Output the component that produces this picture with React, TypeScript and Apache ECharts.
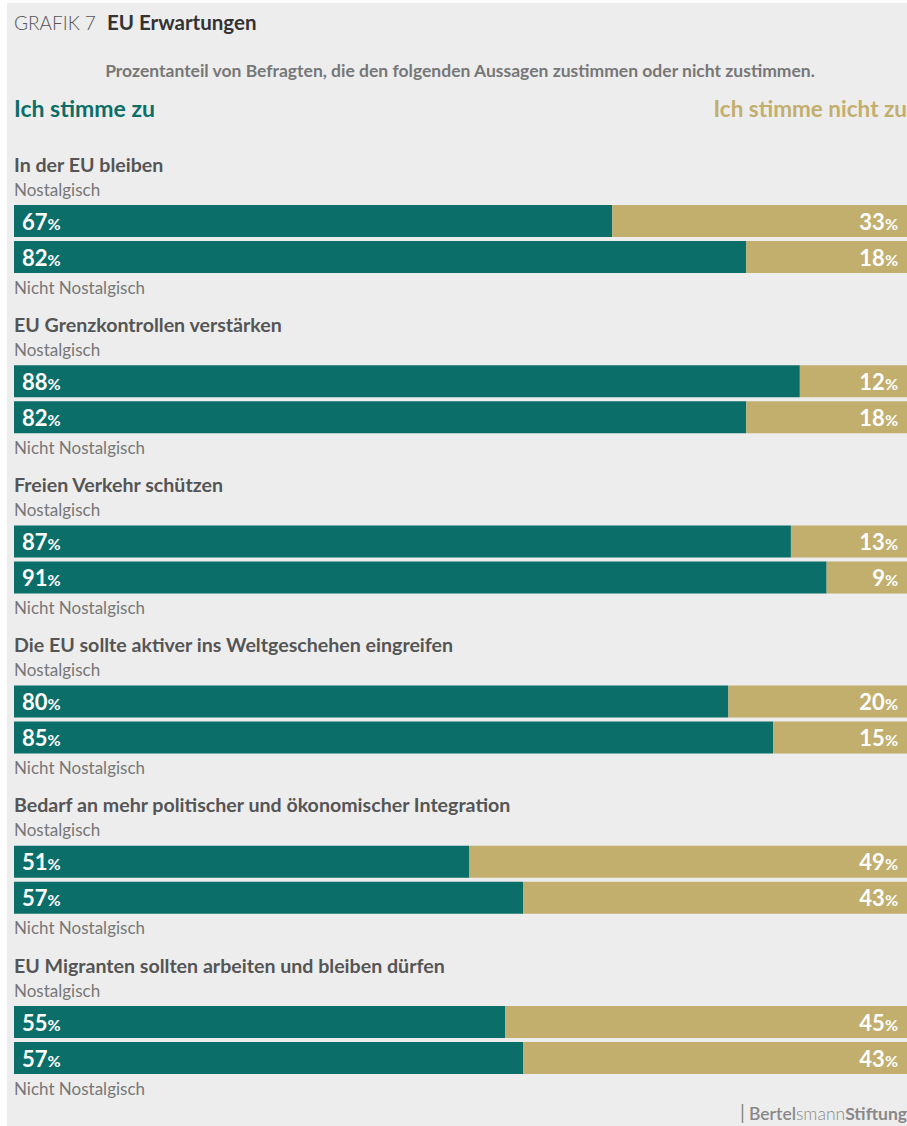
import React, { useEffect, useRef } from "react";
import * as echarts from "echarts";

const categories = [
  "In der EU bleiben",
  "EU Grenzkontrollen verstärken",
  "Freien Verkehr schützen",
  "Die EU sollte aktiver ins Weltgeschehen eingreifen",
  "Bedarf an mehr politischer und ökonomischer Integration",
  "EU Migranten sollten arbeiten und bleiben dürfen",
];
const groups = ["Nostalgisch", "Nicht Nostalgisch"];
const nostalgicAgree = [67, 88, 87, 80, 51, 55];
const nostalgicDisagree = [33, 12, 13, 20, 49, 45];
const notNostalgicAgree = [82, 82, 91, 85, 57, 57];
const notNostalgicDisagree = [18, 18, 9, 15, 43, 43];

const TEAL = "#0b6e69";
const GOLD = "#c2ae6d";
const FONT = "Lato";

export default function App() {
  const ref = useRef<HTMLDivElement>(null);
  useEffect(() => {
    if (!ref.current) return;
    const chart = echarts.init(ref.current, null, { renderer: "svg" });
    const step = 160.2;
    const grids: any[] = [];
    const xAxes: any[] = [];
    const yAxes: any[] = [];
    const series: any[] = [];
    const graphics: any[] = [];
    const rich = {
      n: { fontFamily: FONT, fontWeight: "bold", fontSize: 22, color: "#fff" },
      p: { fontFamily: FONT, fontWeight: "bold", fontSize: 16, color: "#fff", padding: [4, 0, 0, 0] },
    };
    const fmt = (p: any) => `{n|${p.value}}{p|%}`;
    categories.forEach((cat, i) => {
      const top = 200 + step * i;
      grids.push({ left: 7, right: 0, top, height: 72 });
      xAxes.push({ type: "value", gridIndex: i, min: 0, max: 100, show: false });
      yAxes.push({ type: "category", gridIndex: i, data: groups, inverse: true, show: false });
      series.push({
        type: "bar",
        xAxisIndex: i,
        yAxisIndex: i,
        stack: "s" + i,
        barWidth: 32,
        data: [nostalgicAgree[i], notNostalgicAgree[i]],
        itemStyle: { color: TEAL },
        label: { show: true, position: "insideLeft", distance: 8, formatter: fmt, rich },
      });
      series.push({
        type: "bar",
        xAxisIndex: i,
        yAxisIndex: i,
        stack: "s" + i,
        barWidth: 32,
        data: [nostalgicDisagree[i], notNostalgicDisagree[i]],
        itemStyle: { color: GOLD },
        label: { show: true, position: "insideRight", distance: 9, formatter: fmt, rich },
      });
      graphics.push({
        type: "text",
        x: 7,
        y: top - 39,
        style: {
          text: cat,
          fontFamily: FONT,
          fontWeight: "bold",
          fontSize: 19.6,
          fill: "#555",
          verticalAlign: "middle",
        },
      });
      graphics.push({
        type: "text",
        x: 7,
        y: top - 14,
        style: {
          text: groups[0],
          fontFamily: FONT,
          fontSize: 17,
          fill: "#777",
          verticalAlign: "middle",
        },
      });
      graphics.push({
        type: "text",
        x: 7,
        y: top + 84,
        style: {
          text: groups[1],
          fontFamily: FONT,
          fontSize: 17,
          fill: "#777",
          verticalAlign: "middle",
        },
      });
    });

    graphics.push(
      {
        type: "text",
        x: 7,
        y: 19,
        style: { text: "GRAFIK 7", fontFamily: FONT, fontWeight: 300, fontSize: 19, fill: "#555", verticalAlign: "middle" },
      },
      {
        type: "text",
        x: 100,
        y: 19,
        style: { text: "EU Erwartungen", fontFamily: FONT, fontWeight: "bold", fontSize: 20.5, fill: "#333", verticalAlign: "middle" },
      },
      {
        type: "text",
        x: 453,
        y: 67,
        style: {
          text: "Prozentanteil von Befragten, die den folgenden Aussagen zustimmen oder nicht zustimmen.",
          fontFamily: FONT,
          fontWeight: "bold",
          fontSize: 17.5,
          fill: "#777",
          align: "center",
          verticalAlign: "middle",
        },
      },
      {
        type: "text",
        x: 7,
        y: 105,
        style: { text: "Ich stimme zu", fontFamily: FONT, fontWeight: "bold", fontSize: 23, fill: TEAL, verticalAlign: "middle" },
      },
      {
        type: "text",
        x: 900,
        y: 105,
        style: { text: "Ich stimme nicht zu", fontFamily: FONT, fontWeight: "bold", fontSize: 22.5, fill: GOLD, align: "right", verticalAlign: "middle" },
      },
      {
        type: "line",
        shape: { x1: 735.5, y1: 1101, x2: 735.5, y2: 1120 },
        style: { stroke: "#888", lineWidth: 1.5 },
      },
      {
        type: "text",
        x: 900,
        y: 1110,
        style: {
          text: "{a|Bertel}{b|smann}{c|Stiftung}",
          align: "right",
          verticalAlign: "middle",
          rich: {
            a: { fontFamily: FONT, fontWeight: 600, fontSize: 17.5, fill: "#888" },
            b: { fontFamily: FONT, fontWeight: 300, fontSize: 17.5, fill: "#888" },
            c: { fontFamily: FONT, fontWeight: "bold", fontSize: 17.5, fill: "#888" },
          },
        },
      }
    );

    chart.setOption({
      animation: false,
      backgroundColor: "#ededed",
      grid: grids,
      xAxis: xAxes,
      yAxis: yAxes,
      series,
      graphic: graphics,
    });
    return () => chart.dispose();
  }, []);
  return (
    <div
      ref={ref}
      style={{ position: "absolute", left: 7, top: 3, width: 900, height: 1123 }}
    />
  );
}
